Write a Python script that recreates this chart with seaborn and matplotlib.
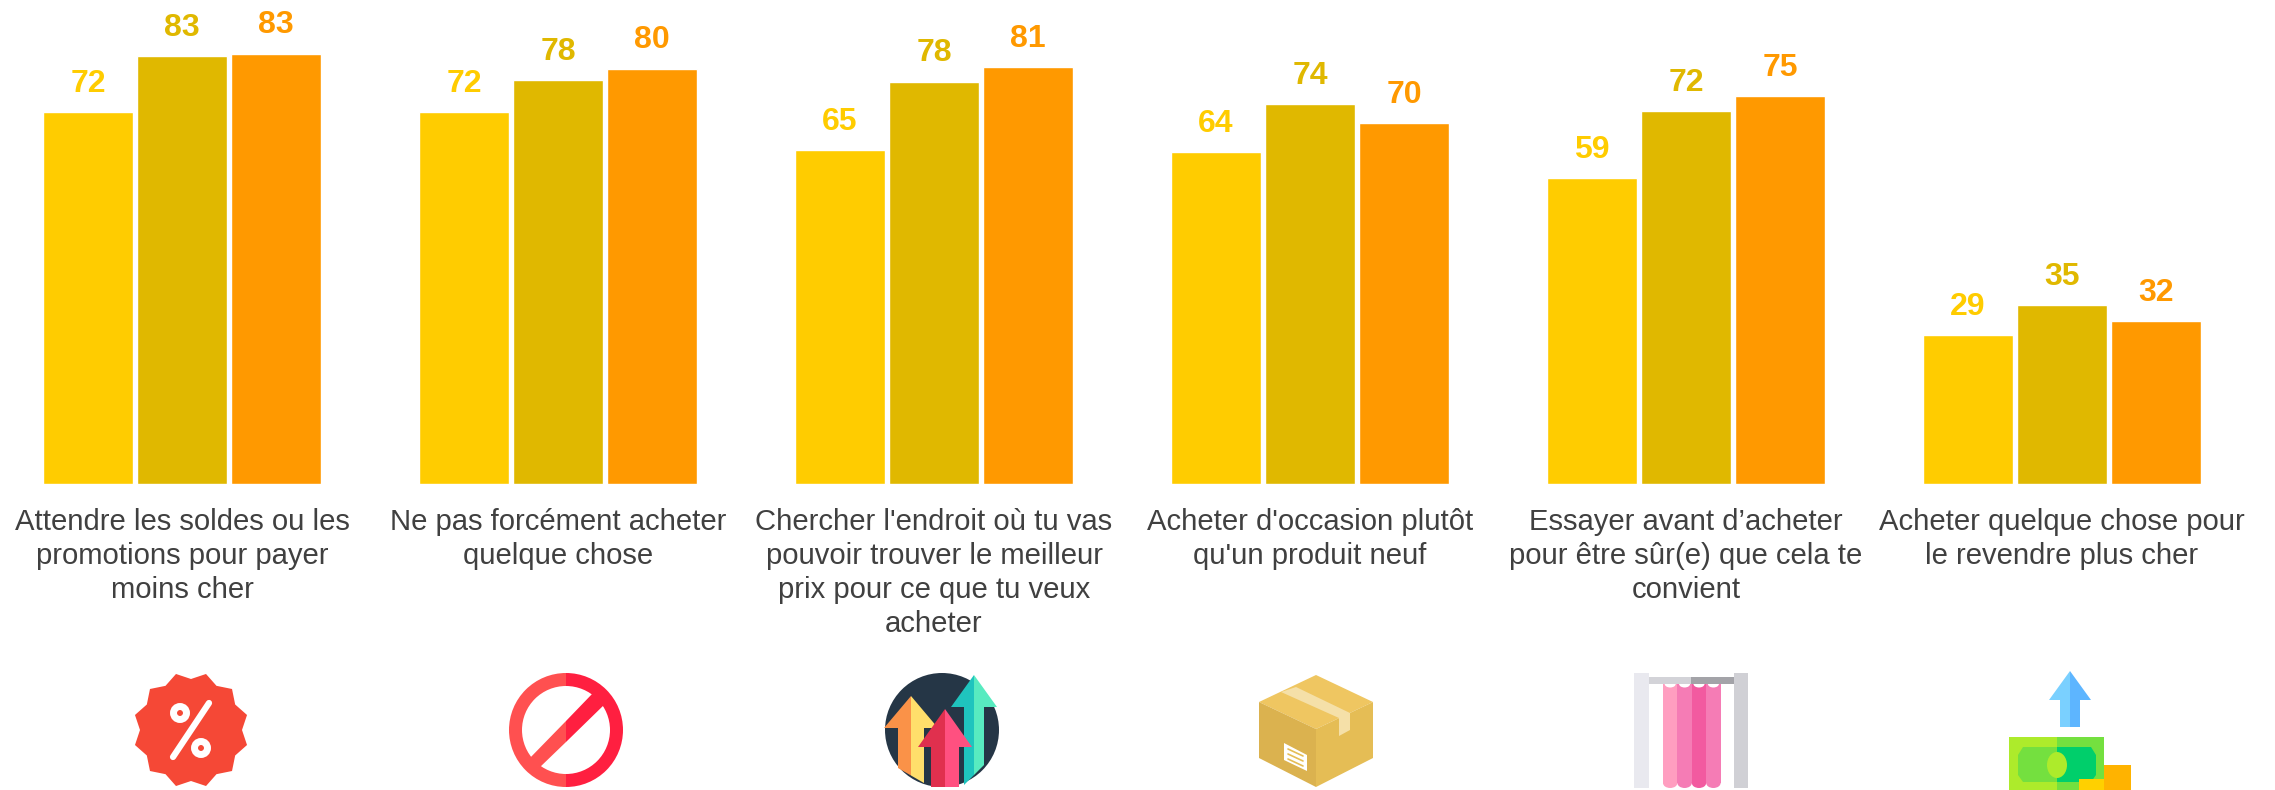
import numpy as np
import pandas as pd
import seaborn as sns
import matplotlib.pyplot as plt
from matplotlib.patches import Circle, Ellipse, Polygon, Rectangle, Wedge

# categories and series
categories = [
    "Attendre les soldes ou les\npromotions pour payer\nmoins cher",
    "Ne pas forcément acheter\nquelque chose",
    "Chercher l'endroit où tu vas\npouvoir trouver le meilleur\nprix pour ce que tu veux\nacheter",
    "Acheter d'occasion plutôt\nqu'un produit neuf",
    "Essayer avant d’acheter\npour être sûr(e) que cela te\nconvient",
    "Acheter quelque chose pour\nle revendre plus cher",
]
series_names = ["A", "B", "C"]
series_a = [72.0, 72.0, 64.7, 64.4, 59.3, 28.8]
series_b = [83.0, 78.2, 78.0, 73.7, 72.3, 34.6]
series_c = [83.4, 80.5, 80.8, 70.0, 75.1, 31.6]
colors = ["#FFCC00", "#E0B800", "#FF9900"]

sns.set_theme(style="white")
plt.rcParams["font.family"] = ["Liberation Sans", "DejaVu Sans"]

df = pd.DataFrame({
    "category": categories * 3,
    "series": np.repeat(series_names, len(categories)),
    "value": series_a + series_b + series_c,
})

W, H = 2275, 790
base_px = 484
fig = plt.figure(figsize=(W / 100, H / 100), dpi=100)
ax = fig.add_axes([0, (H - base_px) / H, 1, base_px / H])

sns.barplot(data=df, x="category", y="value", hue="series", order=categories,
            hue_order=series_names, palette=colors, width=0.75, gap=0.04,
            saturation=1, legend=False, ax=ax)

ax.set_xlim(-182 / 376, (W - 182) / 376)
ax.set_ylim(0, base_px / 5.16)
ax.set_xlabel("")
ax.set_ylabel("")
ax.set_yticks([])
ax.tick_params(axis="x", length=0, pad=17.5, labelsize=21.1, labelcolor="#404040")
for lab in ax.get_xticklabels():
    lab.set_linespacing(1.27)
sns.despine(ax=ax, left=True, bottom=True)

for container, col in zip(ax.containers, colors):
    ax.bar_label(container, fmt="%.0f", padding=9.5, color=col,
                 fontsize=23, fontweight="bold")

# pictograms, drawn in an overlay that counts in pixels
ov = fig.add_axes([0, 0, 1, 1], facecolor="none")
ov.set_xlim(0, W)
ov.set_ylim(H, 0)
ov.axis("off")


def poly(pts, col):
    ov.add_patch(Polygon(pts, closed=True, fc=col, ec="none"))


def rect(x0, y0, x1, y1, col):
    ov.add_patch(Rectangle((x0, y0), x1 - x0, y1 - y0, fc=col, ec="none"))


def arrow(cx, tip, neck, half, shaft, left_bottom, right_bottom, c_left, c_right):
    poly([(cx, tip), (cx - half, neck), (cx - shaft, neck),
          (cx - shaft, left_bottom), (cx, (left_bottom + right_bottom) / 2)], c_left)
    poly([(cx, tip), (cx + half, neck), (cx + shaft, neck),
          (cx + shaft, right_bottom), (cx, (left_bottom + right_bottom) / 2)], c_right)


# percent badge
angles = np.linspace(0, 2 * np.pi, 24, endpoint=False) + np.pi / 12
radii = np.where(np.arange(24) % 2 == 0, 58, 51)
poly(np.c_[191 + radii * np.cos(angles), 730 + radii * np.sin(angles)], "#F54836")
ov.plot([209, 173], [703, 757], color="white", lw=4.5, solid_capstyle="round")
for x0, y0 in [(180, 713), (201, 748)]:
    ov.add_patch(Circle((x0, y0), 6.5, fc="none", ec="white", lw=5))

# no sign
ov.add_patch(Wedge((566, 730), 57, 90, 270, width=13, fc="#FF5050", ec="none"))
ov.add_patch(Wedge((566, 730), 57, -90, 90, width=13, fc="#FF1F40", ec="none"))
poly([(593, 693), (606, 703), (566, 742), (566, 721)], "#FF1F40")
poly([(566, 721), (566, 742), (538, 769), (527, 761)], "#FF5050")

# rising arrows
ov.add_patch(Circle((942, 730), 57, fc="#253646", ec="none"))
arrow(911, 696, 728, 27, 13, 768, 783, "#FA9248", "#FFDF6B")
arrow(974, 675, 707, 23, 10, 785, 765, "#1FC4BE", "#58EBC0")
arrow(945, 709, 747, 27, 14, 787, 787, "#E0304E", "#FF5080")

# cardboard box
poly([(1316, 675), (1373, 702), (1316, 729), (1259, 702)], "#EFC661")
poly([(1259, 702), (1316, 729), (1316, 787), (1259, 758)], "#DBB24F")
poly([(1316, 729), (1373, 702), (1373, 758), (1316, 787)], "#E5BD55")
poly([(1281, 692), (1296, 687), (1350, 713), (1350, 730), (1339, 736), (1339, 718)], "#F5E0A8")
poly([(1284, 743), (1307, 755), (1307, 771), (1284, 760)], "#FFFFFF")
for dy in [0, 5, 10]:
    ov.plot([1288, 1303], [749 + dy, 756 + dy], color="#E5BD55", lw=1.2)

# fitting room
rect(1634, 673, 1649, 788, "#E9E9EF")
rect(1734, 673, 1748, 788, "#D0D0D5")
for i, col in enumerate(["#FF9EC0", "#F57CB5", "#F25AA0", "#F57CB5"]):
    rect(1663 + i * 14.4, 684, 1663 + (i + 1) * 14.4, 783, col)
    ov.add_patch(Ellipse((1670.2 + i * 14.4, 783), 14.4, 10, fc=col, ec="none"))
    ov.add_patch(Ellipse((1670.2 + i * 14.4, 684), 11, 7, fc="white", ec="none"))
rect(1649, 677, 1691, 684, "#D3D3D8")
rect(1691, 677, 1734, 684, "#A3A3A8")

# money and arrow
arrow(2070, 671, 700, 21, 10, 727, 727, "#7AD0FF", "#5DB5FF")
rect(2009, 737, 2057, 790, "#ADEB2B")
rect(2057, 737, 2104, 790, "#74E03F")
poly([(2018, 755), (2023, 747), (2057, 747), (2057, 782), (2023, 782), (2018, 775)], "#74E03F")
poly([(2057, 747), (2091, 747), (2096, 755), (2096, 775), (2091, 782), (2057, 782)], "#00CF6B")
ov.add_patch(Ellipse((2057, 765), 20, 26, fc="#ADEB2B", ec="none"))
rect(2104, 765, 2131, 790, "#FFB300")
rect(2079, 779, 2104, 790, "#FFD000")

plt.savefig("out.png", dpi=100)
